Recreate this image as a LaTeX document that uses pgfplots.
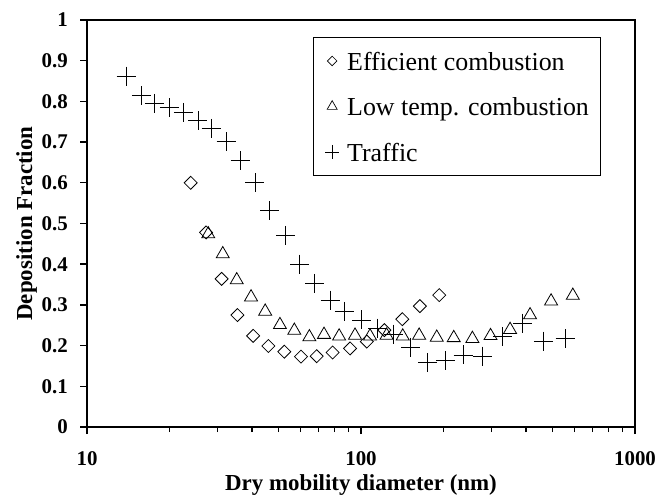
\documentclass[border=0pt]{standalone}
\usepackage{pgfplots}
\pgfplotsset{compat=1.18}
\usepackage{pgfplotstable}
\usepackage{fontspec}
\setmainfont{Liberation Serif}

% Efficient combustion (diamonds)
\pgfplotstableread{
d     f
23.9  0.600
27.2  0.478
31.0  0.364
35.4  0.275
40.4  0.224
45.9  0.199
52.5  0.185
60.4  0.173
68.9  0.174
78.8  0.183
91.2  0.193
105   0.210
121.7 0.238
141.5 0.265
164   0.297
193   0.324
}\efficient
\begin{document}
\begin{tikzpicture}
\begin{axis}[
  at={(0,0)}, anchor=south west,
  scale only axis, width=548bp, height=407bp,
  xmode=log, xmin=10, xmax=1000, ymin=0, ymax=1,
  xtick={10,100,1000}, xticklabels={10,100,1000},
  minor xtick={20,30,40,50,60,70,80,90,200,300,400,500,600,700,800,900},
  ytick={0,0.1,0.2,0.3,0.4,0.5,0.6,0.7,0.8,0.9,1},
  yticklabels={0,0.1,0.2,0.3,0.4,0.5,0.6,0.7,0.8,0.9,1},
  xtick pos=bottom, ytick pos=left,
  tick align=outside,
  major tick length=7bp, minor tick length=5bp,
  every tick/.style={black, line width=1.4bp},
  axis line style={line width=1.8bp},
  tick label style={font=\fontsize{21}{21}\selectfont\bfseries, inner sep=0pt},
  xticklabel style={anchor=base, yshift=-31bp},
  yticklabel style={anchor=east, xshift=-12bp},
  label style={font=\fontsize{23}{23}\selectfont\bfseries},
  xlabel={Dry mobility diameter (nm)},
  ylabel={Deposition Fraction},
  xlabel style={at={(axis description cs:0.5,-0.157)}, anchor=base},
  ylabel style={at={(axis description cs:-0.1,0.5)}, anchor=base},
  legend style={at={(0.412,0.958)}, anchor=north west, draw=black,
    line width=0.8bp, inner xsep=11bp, inner ysep=12bp,
    font=\fontsize{26}{26}\selectfont,
    nodes={text height=21bp, text depth=2bp, inner sep=0pt},
    row sep=22.5bp, column sep=7bp},
  legend cell align=left,
  legend image code/.code={%
    \pgfpathrectangle{\pgfpoint{-8bp}{-2bp}}{\pgfpoint{16bp}{4bp}}%
    \pgfusepath{use as bounding box}%
    \draw[#1] plot coordinates {(0bp,0bp)};},
]
% data series (legend entries are drawn separately with smaller marks)
\addplot[forget plot, only marks, mark=square, mark size=4.6bp,
  mark options={rotate=45, line width=0.8bp, black}] table[x=d, y=f] {\efficient};

% Low temperature combustion (triangles)
\addplot[forget plot, only marks, mark=triangle, mark size=7.5bp,
  mark options={line width=0.8bp, black}] coordinates {
(27.7,0.474) (31.3,0.425) (35.2,0.361) (39.7,0.319) (44.7,0.284)
(50.6,0.251) (57.1,0.237) (64.8,0.221) (73.3,0.227) (83.2,0.223)
(95.1,0.225) (107.9,0.223) (124,0.225) (142,0.223) (163,0.225)
(189,0.220) (218,0.219) (255,0.217) (297,0.224) (350,0.239)
(414,0.275) (494,0.309) (593,0.323)
};

% Traffic (crosses)
\addplot[forget plot, only marks, mark=+, mark size=9.5bp,
  mark options={line width=0.8bp, black}] coordinates {
(13.9,0.862) (15.8,0.814) (17.6,0.795) (20.0,0.785) (22.5,0.773)
(25.4,0.753) (28.4,0.734) (32.2,0.701) (36.2,0.654) (41.0,0.600)
(46.5,0.531) (53.1,0.471) (59.7,0.400) (67.8,0.353) (77.1,0.312)
(86.9,0.284) (100.6,0.263) (115,0.243) (131,0.228) (152,0.196)
(175,0.158) (203,0.163) (236,0.177) (277,0.174) (328,0.222)
(388,0.255) (463,0.211) (556,0.217)
};

\addlegendimage{only marks, mark=square, mark size=3.4bp,
  mark options={rotate=45, line width=0.7bp, black}}
\addlegendentry{Efficient combustion}
\addlegendimage{only marks, mark=triangle, mark size=5.8bp,
  mark options={line width=0.7bp, black}}
\addlegendentry{Low temp. combustion}
\addlegendimage{only marks, mark=+, mark size=7bp,
  mark options={line width=0.7bp, black}}
\addlegendentry{Traffic}
\end{axis}
\pgfresetboundingbox
\path[use as bounding box] (-87bp,-70bp) rectangle (571bp,427bp);
\end{tikzpicture}
\end{document}
